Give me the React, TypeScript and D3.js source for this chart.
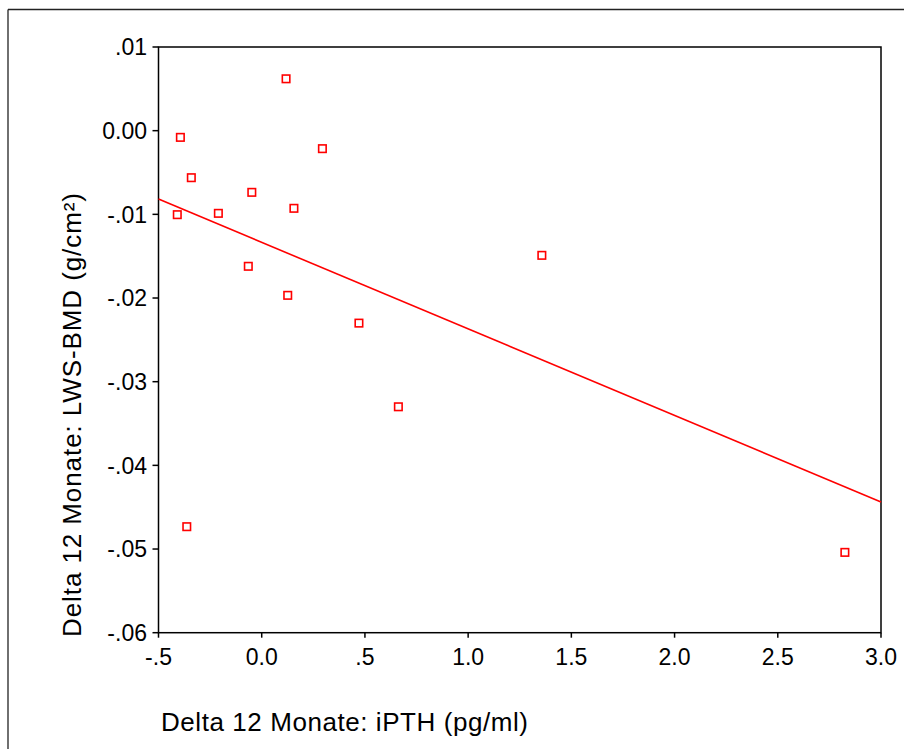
import React from "react";
import * as d3 from "d3";

const xValues = [0.118, -0.394, 0.294, -0.341, -0.048, 0.156, -0.409, -0.21, -0.065, 0.126, 0.471, 0.662, 1.357, -0.363, 2.825];
const yValues = [0.0062, -0.0008, -0.00215, -0.00562, -0.00737, -0.00928, -0.01004, -0.00988, -0.01621, -0.01968, -0.023, -0.033, -0.0149, -0.04733, -0.0504];
const xTicks = [-0.5, 0, 0.5, 1, 1.5, 2, 2.5, 3];
const xTickLabels = ["-.5", "0.0", ".5", "1.0", "1.5", "2.0", "2.5", "3.0"];
const yTicks = [0.01, 0, -0.01, -0.02, -0.03, -0.04, -0.05, -0.06];
const yTickLabels = [".01", "0.00", "-.01", "-.02", "-.03", "-.04", "-.05", "-.06"];
const xTitle = "Delta 12 Monate: iPTH (pg/ml)";
const yTitle = "Delta 12 Monate: LWS-BMD (g/cm²)";

export default function App() {
  const left = 158.5, right = 881, top = 47, bottom = 632.7;
  const x = d3.scaleLinear().domain([-0.5, 3]).range([left, right]);
  const y = d3.scaleLinear().domain([-0.06, 0.01]).range([bottom, top]);

  const n = xValues.length;
  const mx = d3.mean(xValues)!;
  const my = d3.mean(yValues)!;
  let sxy = 0, sxx = 0;
  for (let i = 0; i < n; i++) {
    sxy += (xValues[i] - mx) * (yValues[i] - my);
    sxx += (xValues[i] - mx) ** 2;
  }
  const slope = sxy / sxx;
  const intercept = my - slope * mx;
  const [x0, x1] = x.domain();
  const linePath = d3.line<number>()
    .x((d) => x(d))
    .y((d) => y(intercept + slope * d))([x0, x1]);

  const font = "Arial, 'Liberation Sans', sans-serif";
  const red = "#ff0000";
  const ms = 7.5;

  return (
    <svg
      width={904}
      height={749}
      style={{ position: "absolute", left: 0, top: 0, background: "#fff" }}
    >
      <rect x={0} y={0} width={904} height={749} fill="#fff" />
      <line x1={8} y1={9.5} x2={904} y2={9.5} stroke="#222" strokeWidth={1.3} />
      <line x1={8} y1={9.5} x2={8} y2={749} stroke="#222" strokeWidth={1.3} />

      {/* plot frame */}
      <rect x={left} y={top} width={right - left} height={bottom - top} fill="none" stroke="#000" strokeWidth={1.5} />

      {/* regression line */}
      <path d={linePath || ""} stroke={red} strokeWidth={1.6} fill="none" />

      {/* points */}
      {xValues.map((xv, i) => (
        <rect
          key={i}
          x={x(xv) - ms / 2}
          y={y(yValues[i]) - ms / 2}
          width={ms}
          height={ms}
          fill="#fff"
          stroke={red}
          strokeWidth={1.6}
        />
      ))}

      {/* x ticks */}
      {xTicks.map((t, i) => (
        <g key={"xt" + i}>
          <line x1={x(t)} x2={x(t)} y1={bottom} y2={bottom + 5} stroke="#000" strokeWidth={1.5} />
          <text x={x(t)} y={665} textAnchor="middle" fontFamily={font} fontSize={23} fill="#000">
            {xTickLabels[i]}
          </text>
        </g>
      ))}

      {/* y ticks */}
      {yTicks.map((t, i) => (
        <g key={"yt" + i}>
          <line x1={left - 6} x2={left} y1={y(t)} y2={y(t)} stroke="#000" strokeWidth={1.5} />
          <text x={147} y={y(t)} dy="0.36em" textAnchor="end" fontFamily={font} fontSize={23} fill="#000">
            {yTickLabels[i]}
          </text>
        </g>
      ))}

      {/* axis titles */}
      <text x={161} y={731} fontFamily={font} fontSize={26} fill="#000" textLength={367} lengthAdjust="spacing">
        {xTitle}
      </text>
      <text
        transform={`translate(81, 637) rotate(-90)`}
        x={0}
        y={0}
        fontFamily={font}
        fontSize={26}
        fill="#000"
        textLength={444}
        lengthAdjust="spacing"
      >
        {yTitle}
      </text>
    </svg>
  );
}
